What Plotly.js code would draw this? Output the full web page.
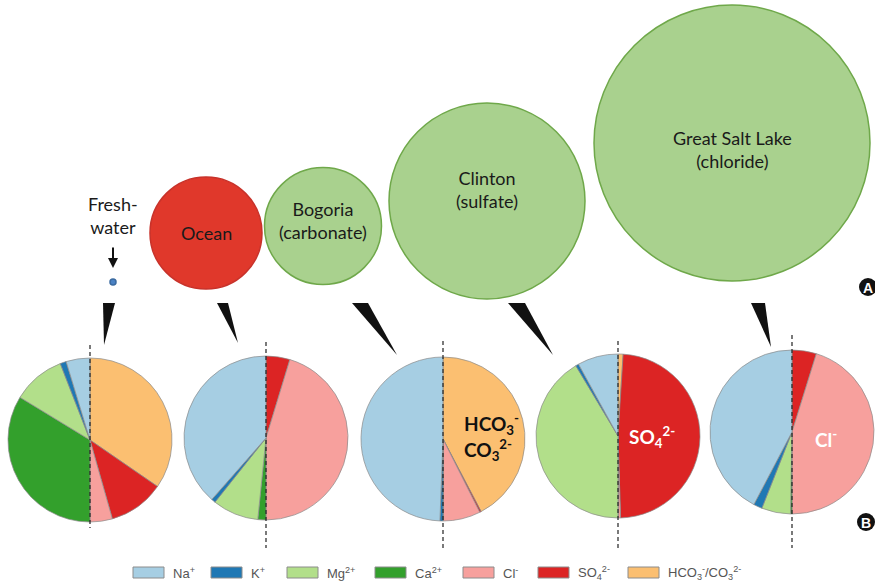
<!DOCTYPE html>
<html>
<head>
<meta charset="utf-8">
<script src="https://cdn.plot.ly/plotly-3.0.1.min.js"></script>
<style>html,body{margin:0;padding:0;background:#fff;}#chart{width:875px;height:586px;}</style>
</head>
<body>
<div id="chart"></div>
<script>
// ---- data ----
const waters = ['Freshwater', 'Ocean', 'Bogoria', 'Clinton', 'Great Salt Lake'];
const bubbleLabels = ['', 'Ocean', 'Bogoria<br>(carbonate)', 'Clinton<br>(sulfate)', 'Great Salt Lake<br>(chloride)'];
const salinitySize = [6, 112, 117, 196, 276];   // relative bubble diameter
// ion shares (% of total charge) per water
const na   = [4.7, 38.5, 49.4, 8.0, 42.3];
const k    = [1.2, 0.8, 0.6, 0.6, 1.7];
const mg   = [10.4, 9.1, 0, 41.4, 5.7];
const ca   = [33.7, 1.6, 0, 0, 0.3];
const cl   = [4.4, 45.3, 7.4, 0.5, 45.2];
const so4  = [11.0, 4.7, 0.3, 48.5, 4.8];
const hco3 = [34.6, 0, 42.3, 1.0, 0];
const legendLabels = ['Na<sup>+</sup>', 'K<sup>+</sup>', 'Mg<sup>2+</sup>', 'Ca<sup>2+</sup>', 'Cl<sup>-</sup>', 'SO<sub>4</sub><sup>2-</sup>', 'HCO<sub>3</sub><sup>-</sup>/CO<sub>3</sub><sup>2-</sup>'];

// ---- styles ----
const C = {na:'#a6cee3', k:'#1f78b4', mg:'#b2df8a', ca:'#33a02c', cl:'#f7a09d', so4:'#dc2424', hco3:'#fbbf71'};
const legendColors = [C.na, C.k, C.mg, C.ca, C.cl, C.so4, C.hco3];
const W = 875, H = 586;
const bubbleX = [113, 206, 323, 487, 732];
const bubbleY = [282, 233, 226, 201, 143];
const labelY  = [0, 233, 220, 189, 149];
const bubbleFill = ['#4a82c4', '#e0382b', '#a9d18e', '#a9d18e', '#a9d18e'];
const bubbleLine = ['#3a6aa0', '#c8322a', '#6fa84a', '#6fa84a', '#6fa84a'];
const pieCx = [90, 266, 443, 618, 792];
const pieCy = [440, 438, 439, 436, 432];
const pieR = 82;
const font = 'Lato, "Open Sans", sans-serif';

const traces = [];
// bubbles
traces.push({
  type: 'scatter', mode: 'markers', x: bubbleX, y: bubbleY,
  marker: {size: salinitySize, sizemode: 'diameter', color: bubbleFill,
           line: {color: bubbleLine, width: 1.5}, opacity: 1},
  hoverinfo: 'text', text: waters, showlegend: false
});
// pies
for (let i = 0; i < waters.length; i++) {
  traces.push({
    type: 'pie', sort: false, direction: 'clockwise', rotation: 0,
    labels: ['HCO3/CO3', 'SO4', 'Cl', 'Ca', 'Mg', 'K', 'Na'],
    values: [hco3[i], so4[i], cl[i], ca[i], mg[i], k[i], na[i]],
    marker: {colors: [C.hco3, C.so4, C.cl, C.ca, C.mg, C.k, C.na], line: {color: '#8a8a8a', width: 0.7}},
    textinfo: 'none', hoverinfo: 'label+value', showlegend: false, name: waters[i],
    domain: {x: [(pieCx[i] - pieR) / W, (pieCx[i] + pieR) / W],
             y: [1 - (pieCy[i] + pieR) / H, 1 - (pieCy[i] - pieR) / H]}
  });
}

const shapes = [];
const annotations = [];
// pointers (triangles)
const tri = [
  [[103,303],[115,303],[104,345]],
  [[217,303],[228,303],[238,343]],
  [[352,303],[368,303],[397,355]],
  [[508,303],[525,303],[553,355]],
  [[751,303],[765,303],[771,347]]
];
tri.forEach(t => shapes.push({type:'path', xref:'x', yref:'y',
  path:`M${t[0][0]},${t[0][1]} L${t[1][0]},${t[1][1]} L${t[2][0]},${t[2][1]} Z`,
  fillcolor:'#111', line:{width:0}, layer:'above'}));
// dashed dividers
const dashTop = [345, 342, 341, 341, 335];
const dashBot = [528, 548, 548, 548, 548];
for (let i = 0; i < 5; i++) {
  shapes.push({type:'line', xref:'x', yref:'y', x0:pieCx[i], x1:pieCx[i], y0:dashTop[i], y1:dashBot[i],
    line:{color:'#222', width:1.2, dash:'4px,3px'}, layer:'above'});
}
// bubble labels
for (let i = 1; i < 5; i++) {
  annotations.push({xref:'x', yref:'y', x:bubbleX[i], y:labelY[i], text:bubbleLabels[i],
    showarrow:false, font:{family:font, size:18, color:'#1a1a1a'}});
}
annotations.push({xref:'x', yref:'y', x:113, y:215, text:'Fresh-<br>water', showarrow:false,
  font:{family:font, size:18, color:'#1a1a1a'}});
annotations.push({xref:'x', yref:'y', x:113, y:268, ax:113, ay:246, axref:'x', ayref:'y', text:'',
  showarrow:true, arrowhead:2, arrowsize:1, arrowwidth:2, arrowcolor:'#111'});
// in-pie labels
annotations.push({xref:'x', yref:'y', x:462, y:424, xanchor:'left', text:'HCO<sub>3</sub><sup>-</sup>',
  showarrow:false, font:{family:font, size:19, color:'#111', weight:'bold'}});
annotations.push({xref:'x', yref:'y', x:462, y:450, xanchor:'left', text:'CO<sub>3</sub><sup>2-</sup>',
  showarrow:false, font:{family:font, size:19, color:'#111', weight:'bold'}});
annotations.push({xref:'x', yref:'y', x:652, y:437, text:'SO<sub>4</sub><sup>2-</sup>',
  showarrow:false, font:{family:font, size:19, color:'#fff', weight:'bold'}});
annotations.push({xref:'x', yref:'y', x:826, y:438, text:'Cl<sup>-</sup>',
  showarrow:false, font:{family:font, size:19, color:'#fff', weight:'bold'}});
// panel badges
[[868,287,'A'],[866,522,'B']].forEach(b => {
  shapes.push({type:'circle', xref:'x', yref:'y', x0:b[0]-9, x1:b[0]+9, y0:b[1]-9, y1:b[1]+9,
    fillcolor:'#111', line:{width:0}, layer:'above'});
  annotations.push({xref:'x', yref:'y', x:b[0], y:b[1]+0.5, text:b[2], showarrow:false,
    font:{family:'"Liberation Sans", Arial, sans-serif', size:14, color:'#fff', weight:'bold'}});
});
// legend
const legX = [133, 211, 287, 375, 463, 538, 628];
for (let i = 0; i < legendLabels.length; i++) {
  shapes.push({type:'rect', xref:'x', yref:'y', x0:legX[i], x1:legX[i]+31, y0:567, y1:578,
    fillcolor:legendColors[i], line:{color:'#8c8c8c', width:1}, layer:'above'});
  annotations.push({xref:'x', yref:'y', x:legX[i]+38, y:573, xanchor:'left', text:legendLabels[i],
    showarrow:false, font:{family:'"Liberation Sans", Arial, sans-serif', size:13, color:'#555'}});
}

const layout = {
  width: W, height: H, margin: {l:0, r:0, t:0, b:0},
  paper_bgcolor: '#fff', plot_bgcolor: '#fff', showlegend: false,
  xaxis: {range: [0, W], visible: false, fixedrange: true},
  yaxis: {range: [H, 0], visible: false, fixedrange: true},
  shapes: shapes, annotations: annotations
};
Plotly.newPlot('chart', traces, layout, {displayModeBar: false, staticPlot: true});
</script>
</body>
</html>
